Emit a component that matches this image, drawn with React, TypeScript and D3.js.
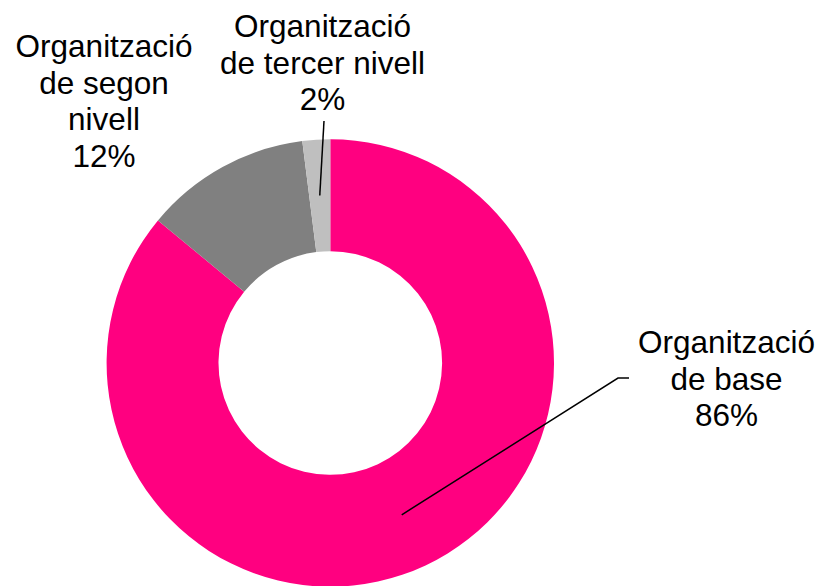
import React from "react";
import * as d3 from "d3";

const categories = [
  "Organització de base",
  "Organització de segon nivell",
  "Organització de tercer nivell",
];
const values = [86, 12, 2];
const colors = ["#FF0080", "#808080", "#BFBFBF"];
const labelLines = [
  ["Organització", "de base", "86%"],
  ["Organització", "de segon", "nivell", "12%"],
  ["Organització", "de tercer nivell", "2%"],
];

const W = 821;
const H = 586;
const cx = 330.3;
const cy = 363;
const outerR = 223.7;
const innerR = 111.8;
const fontSize = 31.5;
const lineH = 36.5;

// label layout: center x, first baseline, optional leader end points
const labelLayout = [
  { x: 726.5, y: 353, leader: [[618, 378], [629, 378]] },
  { x: 104, y: 57, leader: null },
  { x: 322.5, y: 37, leader: [[324, 121]] },
];

export default function App() {
  const data = categories.map((c, i) => ({ c, v: values[i], i }));
  const pie = d3.pie<any>().value((d) => d.v).sort(null);
  const arcs = pie(data);
  const arc = d3.arc<any>().innerRadius(innerR).outerRadius(outerR);

  return (
    <svg width={W} height={H} style={{ position: "absolute", left: 0, top: 0 }}>
      <rect width={W} height={H} fill="#fff" />
      <g transform={`translate(${cx},${cy})`}>
        {arcs.map((a, i) => (
          <path key={i} d={arc(a) as string} fill={colors[i]} />
        ))}
      </g>
      {arcs.map((a, i) => {
        const L = labelLayout[i];
        if (!L.leader) return null;
        const [mx, my] = arc.centroid(a);
        const pts = [[cx + mx, cy + my], ...L.leader];
        const line = d3.line()(pts as [number, number][]);
        return <path key={"l" + i} d={line as string} fill="none" stroke="#000" strokeWidth={1.5} />;
      })}
      {labelLines.map((lines, i) => (
        <text
          key={"t" + i}
          x={labelLayout[i].x}
          y={labelLayout[i].y}
          textAnchor="middle"
          fontFamily="Liberation Sans, Arial, sans-serif"
          fontSize={fontSize}
          fill="#000"
        >
          {lines.map((s, j) => (
            <tspan key={j} x={labelLayout[i].x} y={labelLayout[i].y + j * lineH}>
              {s}
            </tspan>
          ))}
        </text>
      ))}
    </svg>
  );
}
